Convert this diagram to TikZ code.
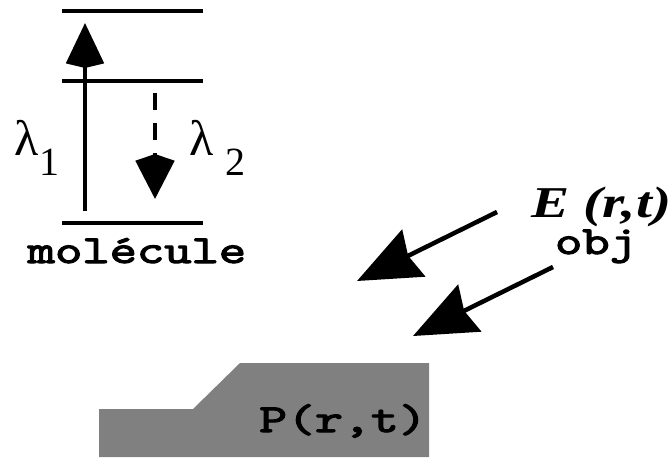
\documentclass[tikz,border=0pt]{standalone}
\usepackage{fontspec}
\setmainfont{Liberation Serif}
\newfontfamily\courbold{lmmono10-regular.otf}[FakeBold=2.5]
\usepackage{tikz}
\usetikzlibrary{arrows.meta,positioning}
\definecolor{substrate}{HTML}{808080}
\newcommand{\stretchx}[2]{\scalebox{#1}[1]{#2}}
\tikzset{
    ttlabel/.style={font=\fontsize{40}{40}\selectfont\courbold\bfseries},
    lamlabel/.style={anchor=base west, font=\fontsize{50}{50}\selectfont},
}

\begin{document}
\begin{tikzpicture}[x=1pt, y=-1pt, every node/.style={inner sep=0pt}]
    \useasboundingbox (0,0) rectangle (668,458);

    % Energy levels of the molecule
    \foreach \ly in {11,81,223} {
        \draw[line width=4pt] (62,\ly) -- (203,\ly);
    }

    % Absorption and emission
    \coordinate (abs-start) at (85,211);
    \coordinate (abs-end) at (85,23);
    \coordinate (em-start) at (155,93);
    \coordinate (em-end) at (155,199);
    \draw[line width=4pt, -{Stealth[length=40pt, width=37pt, inset=-5pt]}] (abs-start) -- (abs-end);
    \draw[line width=3.5pt, dash pattern=on 17pt off 13pt, -{Stealth[length=38pt, width=38pt, inset=-7pt]}] (em-start) -- (em-end);

    \node[lamlabel] (lam1) at (14,155) {λ\raisebox{-20pt}{\fontsize{40}{40}\selectfont\kern1pt 1}};
    \node[lamlabel] (lam2) at (189,155) {λ\raisebox{-20pt}{\fontsize{40}{40}\selectfont\kern12pt 2}};
    \node[ttlabel, anchor=base] (mol) at (137,263) {\stretchx{1.3}{molécule}};

    % Incident field
    \node[anchor=base west, font=\fontsize{44}{44}\selectfont\bfseries\itshape] (field) at (531,217) {\stretchx{1.3}{E (r,t)}};
    \node[ttlabel, anchor=base] (obj) at (596,254) {\stretchx{1.3}{obj}};
    \coordinate (f1-start) at (497,212);
    \coordinate (f1-end) at (357,281);
    \coordinate (f2-start) at (553,267);
    \coordinate (f2-end) at (413,336);
    \foreach \f in {f1,f2} {
        \draw[line width=4.5pt, -{Stealth[length=63pt, width=52pt, inset=6pt]}] (\f-start) -- (\f-end);
    }

    % Object surface
    \fill[substrate] (99,457) -- (99,409) -- (193,409) -- (240,363) -- (429,363) -- (429,457) -- cycle;
    \node[ttlabel, anchor=base] (pol) at (343,432) {\stretchx{1.33}{P(r,t)}};
\end{tikzpicture}
\end{document}
